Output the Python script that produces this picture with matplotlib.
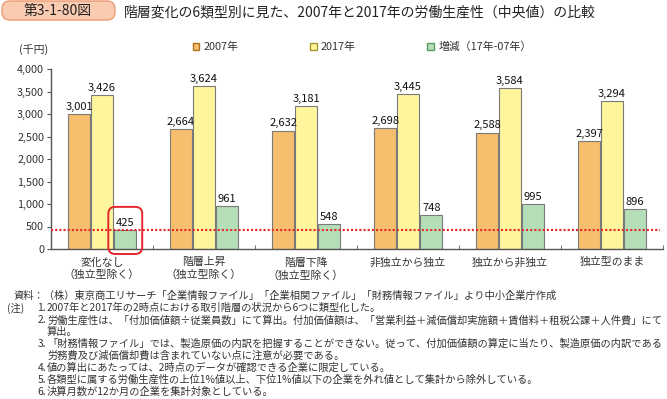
import numpy as np
import matplotlib
matplotlib.use('Agg')
import matplotlib.pyplot as plt
from matplotlib.patches import FancyBboxPatch
from matplotlib.transforms import IdentityTransform

plt.rcParams['font.family'] = ['Noto Sans CJK JP', 'DejaVu Sans']

categories = ['変化なし\n（独立型除く）', '階層上昇\n（独立型除く）', '階層下降\n（独立型除く）',
              '非独立から独立', '独立から非独立', '独立型のまま']
vals_2007 = [3001, 2664, 2632, 2698, 2588, 2397]
vals_2017 = [3426, 3624, 3181, 3445, 3584, 3294]
vals_diff = [425, 961, 548, 748, 995, 896]
series_labels = ['2007年', '2017年', '増減（17年-07年）']
ref_level = 425

title_tag = '第3-1-80図'
title = '階層変化の6類型別に見た、2007年と2017年の労働生産性（中央値）の比較'
notes = [
    ('', '資料：（株）東京商工リサーチ「企業情報ファイル」「企業相関ファイル」「財務情報ファイル」より中小企業庁作成'),
    ('1.', '2007年と2017年の2時点における取引階層の状況から6つに類型化した。'),
    ('2.', '労働生産性は、「付加価値額÷従業員数」にて算出。付加価値額は、「営業利益＋減価償却実施額＋賃借料＋租税公課＋人件費」にて'),
    ('', '算出。'),
    ('3.', '「財務情報ファイル」では、製造原価の内訳を把握することができない。従って、付加価値額の算定に当たり、製造原価の内訳である'),
    ('', '労務費及び減価償却費は含まれていない点に注意が必要である。'),
    ('4.', '値の算出にあたっては、2時点のデータが確認できる企業に限定している。'),
    ('5.', '各類型に属する労働生産性の上位1%値以上、下位1%値以下の企業を外れ値として集計から除外している。'),
    ('6.', '決算月数が12か月の企業を集計対象としている。'),
]

colors = ['#F7BE6E', '#FFF59C', '#B4DEB8']
edge = '#7a7a7a'
txt = '#333333'

W, H = 667, 399
fig = plt.figure(figsize=(W / 100, H / 100), dpi=100)
ax = fig.add_axes([51 / W, (H - 249) / H, 612 / W, 180 / H])

x = np.arange(len(categories)) + 0.5
bw = 0.215
offsets = [-0.225, 0.0, 0.228]
bars = []
for vals, off, c in zip([vals_2007, vals_2017, vals_diff], offsets, colors):
    b = ax.bar(x + off, vals, width=bw, color=c, edgecolor=edge, linewidth=0.8, zorder=2)
    bars.append(b)
    for rect, v in zip(b, vals):
        ax.annotate(f'{v:,}', (rect.get_x() + rect.get_width() / 2, v),
                    xytext=(0, 1.5), textcoords='offset points',
                    ha='center', va='bottom', fontsize=8, color='#111111')

ax.axhline(ref_level, xmin=0, xmax=0.995, color='#E6262B', lw=1.5,
           linestyle=(0, (1, 1)), zorder=3)

ax.set_xlim(0, 6)
ax.set_ylim(0, 4000)
ax.set_yticks(np.arange(0, 4001, 500))
ax.set_yticklabels([f'{v:,}' for v in range(0, 4001, 500)])
ax.set_xticks(x)
ax.set_xticklabels(categories, linespacing=1.3)
ax.set_xticks(np.arange(1, 7), minor=True)
ax.tick_params(axis='x', which='major', length=0, pad=6, labelsize=7.8, labelcolor=txt)
ax.tick_params(axis='x', which='minor', direction='in', length=3, color='#555555')
ax.tick_params(axis='y', length=3, pad=2, labelsize=7.8, labelcolor=txt, color='#555555')
for s in ['top', 'right']:
    ax.spines[s].set_visible(False)
for s in ['left', 'bottom']:
    ax.spines[s].set_color('#555555')
    ax.spines[s].set_linewidth(1.0)

# red rounded box around first diff bar
fig.canvas.draw()
r = bars[2][0]
x0, y0 = ax.transData.transform((r.get_x(), 0))
x1, y1 = ax.transData.transform((r.get_x() + r.get_width(), vals_diff[0]))
box = FancyBboxPatch((x0 - 6, y0 - 5), (x1 - x0) + 12, (y1 - y0) + 28,
                     boxstyle='round,pad=0,rounding_size=7', transform=IdentityTransform(),
                     facecolor='none', edgecolor='#E6262B', linewidth=1.4, clip_on=False, zorder=4)
ax.add_patch(box)

# legend
leg = ax.legend(bars, series_labels, ncol=3, loc='center left', bbox_to_anchor=(183 / W, (H - 47) / H),
                bbox_transform=fig.transFigure, frameon=False, fontsize=7.8, handlelength=0.6,
                handleheight=0.6, handletextpad=0.4, columnspacing=6.6, labelcolor=txt)
for h, ec in zip(leg.legend_handles, ['#B07020', '#A09A30', '#5E9A66']):
    h.set_edgecolor(ec)
    h.set_linewidth(1.0)

fig.text(34 / W, (H - 50) / H, '(千円)', ha='center', va='center', fontsize=7.8, color=txt)

# header
tag = FancyBboxPatch((2, H - 20), 113, 19,
                     boxstyle='round,pad=0,rounding_size=8', transform=IdentityTransform(),
                     facecolor='#F9CBB1', edgecolor='#EE9A72', linewidth=1.0)
fig.add_artist(tag)
fig.text(58 / W, (H - 11) / H, title_tag, ha='center', va='center', fontsize=10, color='#222222')
fig.text(124 / W, (H - 12) / H, title, ha='left', va='center', fontsize=10, color='#222222')

# notes
fs = 7.4
for i, (num, body) in enumerate(notes):
    yy = (H - (296 + 12 * i)) / H
    if i == 0:
        fig.text(14 / W, yy, body, ha='left', va='center', fontsize=fs, color=txt)
        continue
    if i == 1:
        fig.text(7 / W, yy, '(注)', ha='left', va='center', fontsize=fs, color=txt)
    if num:
        fig.text(46 / W, yy, num, ha='right', va='center', fontsize=fs, color=txt)
    fig.text(47 / W, yy, body, ha='left', va='center', fontsize=fs, color=txt)

fig.savefig('out.png', dpi=100)
